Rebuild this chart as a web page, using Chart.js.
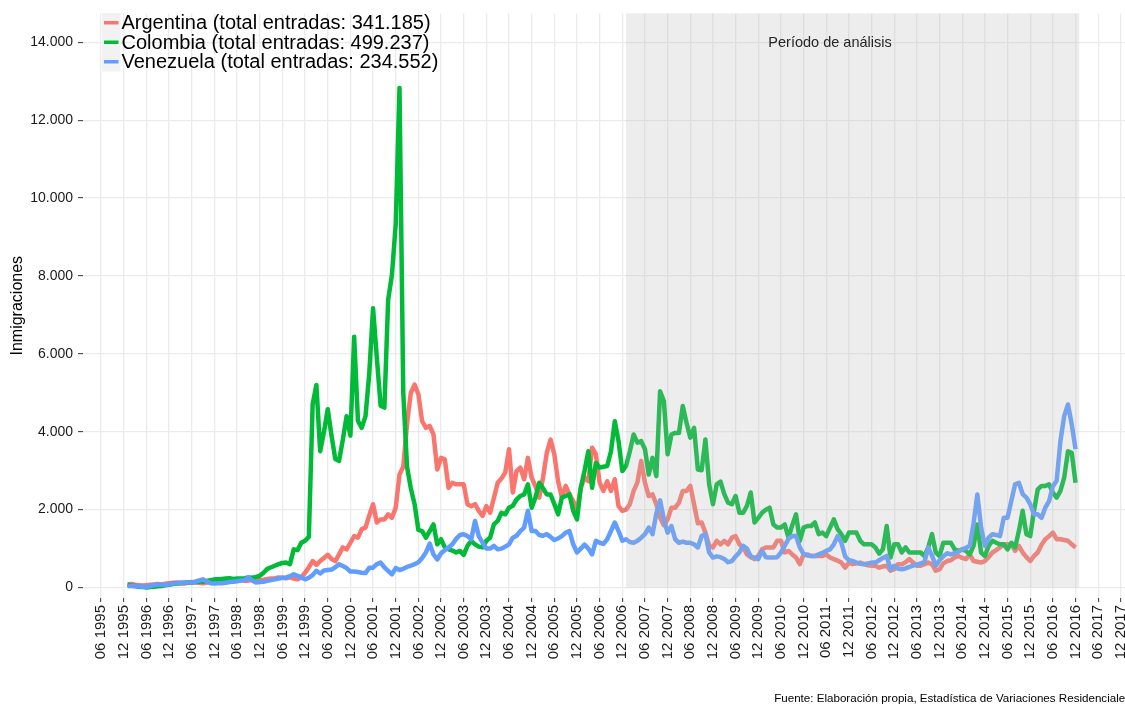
<!DOCTYPE html>
<html>
<head>
<meta charset="utf-8">
<script src="https://cdn.jsdelivr.net/npm/chart.js@4.4.0/dist/chart.umd.min.js"></script>
<style>
  html, body { margin: 0; padding: 0; background: #fff; }
  #chart { display: block; }
</style>
</head>
<body>
<canvas id="chart" width="1125" height="706"></canvas>
<script>
// monthly series, Jan 1996 .. Dec 2016 (one row per year)
const firstYear = 1996;

const argentina = [
  80, 90, 70, 60, 50, 60, 70, 80, 90, 80, 100, 110,
  120, 130, 110, 100, 120, 140, 130, 120, 110, 130, 150, 140,
  150, 160, 170, 160, 180, 200, 190, 170, 180, 200, 210, 190,
  200, 220, 230, 240, 260, 250, 240, 260, 230, 210, 260, 380,
  520, 680, 580, 680, 760, 840, 730, 680, 850, 1030, 980, 1150,
  1320, 1280, 1500, 1540, 1850, 2140, 1670, 1750, 1750, 1880, 1790, 2050,
  2900, 3100, 4200, 5000, 5210, 4960, 4270, 4100, 4150, 3930, 3030, 3330,
  3290, 2560, 2690, 2650, 2650, 2650, 2140, 2090, 2140, 1970, 1840, 2090,
  1920, 2300, 2690, 2800, 2950, 3550, 2440, 2990, 3080, 2780, 3330, 2820,
  2600, 2310, 2820, 3460, 3800, 3420, 2730, 2310, 2610, 2390, 2220, 1970,
  2560, 2820, 2730, 3590, 3420, 2690, 2480, 2730, 2480, 2780, 2090, 1970,
  2000, 2140, 2480, 2700, 3250, 2690, 2350, 2390, 2140, 1800, 1600, 1750,
  2050, 2050, 2180, 2480, 2480, 2610, 2140, 1650, 1670, 1410, 1070, 1030,
  1200, 1110, 1200, 1110, 1280, 1320, 1110, 1030, 850, 780, 730, 810,
  980, 1030, 1030, 1030, 1200, 1200, 900, 940, 850, 770, 600, 850,
  850, 810, 810, 810, 810, 850, 770, 730, 690, 640, 510, 640,
  600, 620, 640, 600, 570, 560, 560, 510, 540, 560, 430, 470,
  600, 600, 650, 730, 640, 560, 560, 600, 640, 600, 430, 470,
  620, 680, 700, 770, 810, 760, 730, 850, 680, 660, 640, 680,
  780, 900, 960, 1030, 1110, 1110, 1110, 940, 1070, 900, 780, 680,
  810, 900, 1100, 1240, 1320, 1410, 1240, 1240, 1220, 1200, 1110, 1030
];

const colombia = [
  70, 50, 40, 20, 10, 0, 10, 20, 30, 40, 60, 70,
  90, 100, 110, 120, 130, 130, 140, 150, 150, 170, 190, 210,
  210, 220, 230, 240, 220, 230, 230, 240, 260, 250, 270, 300,
  380, 480, 520, 560, 600, 630, 640, 600, 980, 960, 1150, 1200,
  1300, 4700, 5200, 3500, 4000, 4580, 3900, 3300, 3250, 3800, 4400, 3900,
  6440, 4280, 4100, 4400, 5500, 7170, 5900, 4670, 4620, 7390, 8030, 9330,
  12830, 5000, 3100, 2550, 2140, 1480, 1450, 1280, 1450, 1620, 1110, 1240,
  1030, 980, 950, 900, 940, 840, 1070, 1200, 1110, 1050, 1030, 1200,
  1280, 1620, 1710, 1920, 1880, 2050, 2100, 2260, 2350, 2390, 2650, 2050,
  2310, 2690, 2550, 2390, 2390, 2140, 1880, 2310, 2350, 2390, 1970, 1750,
  2560, 3000, 3500, 2560, 3200, 3080, 3100, 3120, 3500, 4270, 3760, 2990,
  3120, 3500, 3930, 3720, 3760, 3550, 2900, 3330, 2860, 5040, 4790, 3420,
  3930, 3970, 3970, 4660, 4230, 3850, 4100, 3030, 3010, 3800, 2650, 2140,
  2650, 2720, 2400, 2180, 2140, 2350, 1920, 1920, 2100, 2440, 1670, 1790,
  1920, 2000, 2050, 1620, 1540, 1540, 1620, 1280, 1600, 1880, 1200, 1540,
  1580, 1580, 1670, 1370, 1410, 1320, 1540, 1750, 1500, 1370, 1200, 1410,
  1410, 1410, 1200, 1110, 1110, 1110, 1030, 870, 980, 1580, 770, 1110,
  1110, 900, 1030, 900, 900, 900, 900, 810, 1030, 1370, 900, 810,
  1150, 1150, 1150, 980, 940, 980, 940, 850, 1070, 1620, 900, 810,
  1070, 1200, 1150, 1110, 1110, 980, 1150, 1030, 1450, 1970, 1370, 1320,
  1970, 2520, 2610, 2610, 2650, 2440, 2310, 2480, 2820, 3500, 3460, 2690
];

const venezuela = [
  40, 40, 30, 30, 20, 20, 40, 60, 80, 70, 70, 80,
  100, 110, 130, 120, 130, 130, 150, 180, 210, 150, 110, 100,
  110, 110, 120, 140, 150, 160, 180, 190, 260, 180, 130, 140,
  150, 170, 190, 210, 230, 250, 260, 290, 340, 300, 260, 210,
  250, 320, 430, 360, 440, 450, 460, 520, 600, 550, 500, 410,
  410, 400, 380, 370, 510, 510, 600, 640, 520, 430, 340, 500,
  450, 480, 530, 560, 600, 650, 760, 900, 1130, 850, 720, 880,
  960, 1030, 1110, 1250, 1350, 1370, 1320, 1240, 1710, 1320, 1150, 1000,
  1000, 1070, 980, 1000, 1050, 1110, 1280, 1330, 1450, 1540, 1970, 1450,
  1450, 1350, 1330, 1370, 1300, 1220, 1260, 1320, 1410, 1450, 1110, 900,
  1000, 1100, 1000, 850, 1200, 1150, 1120, 1240, 1450, 1670, 1450, 1200,
  1240, 1170, 1150, 1200, 1280, 1370, 1540, 1370, 1900, 2240, 1750, 1410,
  1580, 1240, 1150, 1180, 1150, 1150, 1110, 1030, 1320, 1370, 900, 770,
  800, 780, 730, 650, 680, 800, 900, 1070, 1000, 800, 770, 730,
  940, 780, 770, 770, 780, 900, 1070, 1250, 1320, 1320, 1030, 860,
  820, 810, 810, 850, 890, 940, 980, 1110, 1320, 1150, 800, 700,
  680, 640, 610, 600, 620, 640, 640, 700, 760, 810, 470, 560,
  480, 470, 490, 530, 560, 590, 620, 650, 1030, 820, 560, 700,
  800, 880, 850, 880, 920, 980, 1020, 1070, 1650, 2390, 1540, 1070,
  1280, 1370, 1350, 1320, 1790, 1790, 2220, 2650, 2690, 2400, 2310, 2140,
  1880, 1880, 1790, 2050, 2220, 2600, 2740, 3760, 4400, 4700, 4190, 3550
];

const seriesNames = [
  'Argentina (total entradas: 341.185)',
  'Colombia (total entradas: 499.237)',
  'Venezuela (total entradas: 234.552)'
];
const seriesColors = ['#F8766D', '#00BA38', '#619CFF'];

const yTicks = [0, 2000, 4000, 6000, 8000, 10000, 12000, 14000];
// x ticks every 6 months, "06 1995" .. "12 2017"
const xTickFirst = [1995, 6];
const xTickLast = [2017, 12];
const analysisPeriod = [[2007, 1], [2017, 1]];
const analysisLabelAt = [2011, 7];
const analysisLabel = 'Período de análisis';
const caption = 'Fuente: Elaboración propia, Estadística de Variaciones Residenciales';

const FONT = '"Liberation Sans", Arial, sans-serif';
Chart.defaults.font.family = FONT;

// month index relative to Jan of firstYear
function monthIndex(year, month) {
  return (year - firstYear) * 12 + (month - 1);
}
function monthLabel(k) {
  const total = firstYear * 12 + k;
  const year = Math.floor(total / 12);
  const month = total - year * 12 + 1;
  return String(month).padStart(2, '0') + ' ' + year;
}
function thousands(v) {
  return String(v).replace(/\B(?=(\d{3})+(?!\d))/g, '.');
}

const xTickValues = [];
for (let k = monthIndex(...xTickFirst); k <= monthIndex(...xTickLast); k += 6) xTickValues.push(k);

const toPoints = arr => arr.map((v, k) => ({ x: k, y: v }));

const overlay = {
  id: 'overlay',
  afterDatasetsDraw(chart) {
    const { ctx, chartArea, scales } = chart;
    const x0 = scales.x.getPixelForValue(monthIndex(...analysisPeriod[0]));
    const x1 = scales.x.getPixelForValue(monthIndex(...analysisPeriod[1]));
    const yb = scales.y.getPixelForValue(0);
    ctx.save();
    ctx.fillStyle = 'rgba(182,182,182,0.25)';
    ctx.fillRect(x0, chartArea.top, x1 - x0, yb - chartArea.top);
    ctx.fillStyle = '#262626';
    ctx.font = '14.5px ' + FONT;
    ctx.textAlign = 'center';
    ctx.textBaseline = 'middle';
    ctx.fillText(analysisLabel, scales.x.getPixelForValue(monthIndex(...analysisLabelAt)), chartArea.top + 30);
    ctx.restore();
  },
  afterDraw(chart) {
    const { ctx } = chart;
    ctx.save();
    // legend (inside the panel, top left)
    const kx = 102, ky = 13, ks = 19.5;
    ctx.fillStyle = '#F2F2F2';
    ctx.fillRect(kx, ky, ks - 1, ks * 3);
    ctx.font = '20px ' + FONT;
    ctx.textBaseline = 'middle';
    ctx.textAlign = 'left';
    seriesNames.forEach((name, i) => {
      const cy = ky + ks * i + ks / 2;
      ctx.strokeStyle = seriesColors[i];
      ctx.lineWidth = 3.5;
      ctx.beginPath();
      ctx.moveTo(kx + 2, cy);
      ctx.lineTo(kx + ks - 3, cy);
      ctx.stroke();
      ctx.fillStyle = '#000000';
      ctx.fillText(name, kx + ks, cy + 1);
    });
    // caption
    ctx.font = '11.6px ' + FONT;
    ctx.fillStyle = '#000000';
    ctx.textAlign = 'right';
    ctx.textBaseline = 'alphabetic';
    ctx.fillText(caption, 1131, 702);
    ctx.restore();
  }
};

new Chart(document.getElementById('chart'), {
  type: 'line',
  data: {
    datasets: [argentina, colombia, venezuela].map((arr, i) => ({
      label: seriesNames[i],
      data: toPoints(arr),
      borderColor: seriesColors[i],
      backgroundColor: seriesColors[i],
      borderWidth: 4.5,
      pointRadius: 0,
      tension: 0,
      borderJoinStyle: 'round',
      order: 3 - i
    }))
  },
  options: {
    responsive: false,
    animation: false,
    layout: { padding: { top: 12, left: 0, right: 0, bottom: 0 } },
    plugins: { legend: { display: false }, tooltip: { enabled: false } },
    scales: {
      x: {
        type: 'linear',
        min: -11.8,
        max: 264.1,
        afterBuildTicks: s => { s.ticks = xTickValues.map(v => ({ value: v })); },
        afterFit: s => { s.height = 108; s.paddingLeft = 0; s.paddingRight = 0; },
        grid: { color: '#EBEBEB', lineWidth: 1.3, tickColor: '#333333', tickLength: 4, tickWidth: 1 },
        border: { display: false },
        ticks: {
          autoSkip: false,
          minRotation: 90,
          maxRotation: 90,
          padding: 3,
          color: '#1A1A1A',
          font: { size: 15 },
          callback: v => monthLabel(v)
        }
      },
      y: {
        min: -269,
        max: 14743,
        afterBuildTicks: s => { s.ticks = yTicks.map(v => ({ value: v })); },
        afterFit: s => { s.width = 83; },
        grid: { color: '#EBEBEB', lineWidth: 1.3, tickColor: '#333333', tickLength: 5, tickWidth: 1 },
        border: { display: false },
        title: {
          display: true,
          text: 'Inmigraciones',
          color: '#000000',
          font: { size: 16 },
          padding: { top: 8, bottom: 0 }
        },
        ticks: {
          padding: 5,
          color: '#1A1A1A',
          font: { size: 14 },
          callback: v => thousands(v)
        }
      }
    }
  },
  plugins: [overlay]
});
</script>
</body>
</html>
